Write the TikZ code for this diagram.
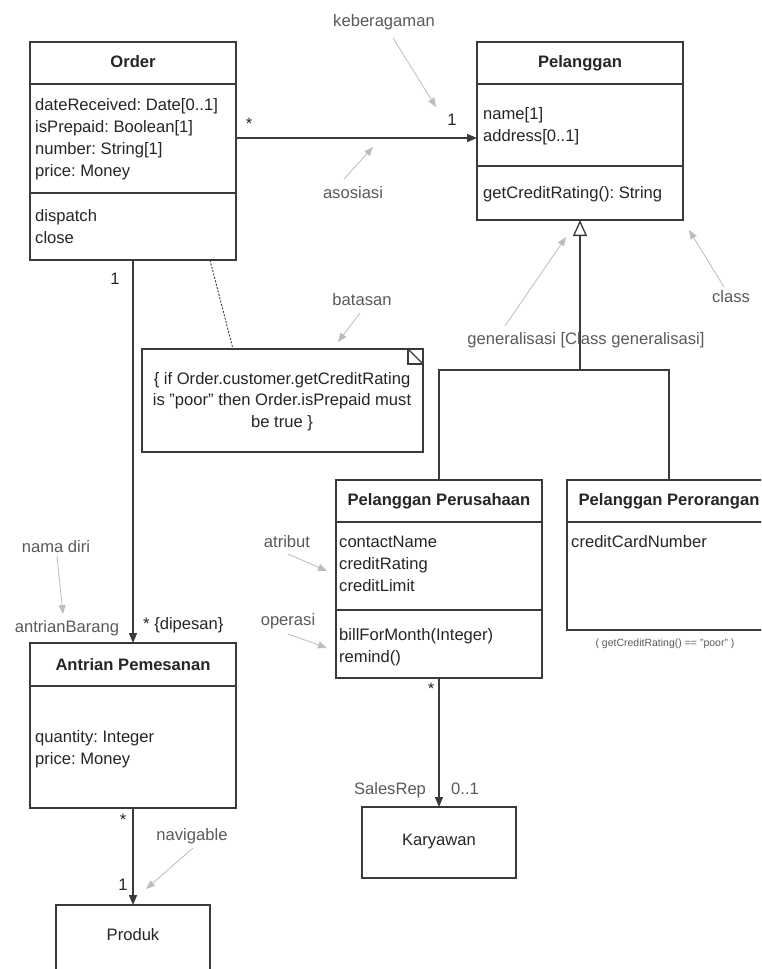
\documentclass[tikz,border=0pt]{standalone}
\usepackage{fontspec}
\setmainfont{Liberation Sans}
\usetikzlibrary{arrows.meta}
\definecolor{linec}{HTML}{3A3A3A}
\definecolor{textc}{HTML}{262626}
\definecolor{annc}{HTML}{5A5A5A}
\definecolor{annl}{HTML}{BDBDBD}
\newcommand{\qq}{{\char34}}
\begin{document}
\frenchspacing
\begin{tikzpicture}[x=1pt,y=-1pt,
  box/.style={draw=linec, line width=1.3pt, rectangle, anchor=north west, inner sep=0pt, outer sep=0pt},
  txt/.style={font=\fontsize{16.6}{22}\selectfont, text=textc, inner sep=0pt, anchor=base west},
  ttl/.style={font=\fontsize{16.6}{22}\selectfont\bfseries, text=textc, inner sep=0pt, anchor=base},
  ctr/.style={font=\fontsize{16.6}{22}\selectfont, text=textc, inner sep=0pt, anchor=base},
  ann/.style={font=\fontsize{16.6}{22}\selectfont, text=annc, inner sep=0pt, anchor=base},
  mult/.style={font=\fontsize{16.6}{22}\selectfont, text=textc, inner sep=0pt, anchor=base},
  sepline/.style={draw=linec, line width=1.3pt},
  assoc/.style={draw=linec, line width=1.3pt, -{Triangle[length=10pt,width=8pt]}},
  genarrow/.style={draw=linec, line width=1.3pt, -{Triangle[open,length=16pt,width=14pt,fill=white]}},
  genline/.style={draw=linec, line width=1.3pt},
  annarrow/.style={draw=annl, line width=0.8pt, -{Triangle[length=9pt,width=7pt]}},
  notelink/.style={draw=linec, line width=0.9pt, dash pattern=on 2pt off 1.5pt}
]
\useasboundingbox (0,0) rectangle (761,969);
\clip (0,0) rectangle (761,969);
\fill[white] (0,0) rectangle (761,969);

% ---------- Order ----------
\node[box, minimum width=206pt, minimum height=218pt] (order) at (30,42) {};
\draw[sepline] (order.west |- 0,84) -- (order.east |- 0,84);
\draw[sepline] (order.west |- 0,193) -- (order.east |- 0,193);
\node[ttl] (ordert) at (133,67) {Order};
\node[txt] (oa1) at (35,110) {dateReceived: Date[0..1]};
\node[txt] (oa2) at (35,132) {isPrepaid: Boolean[1]};
\node[txt] (oa3) at (35,154) {number: String[1]};
\node[txt] (oa4) at (35,176) {price: Money};
\node[txt] (oo1) at (35,221) {dispatch};
\node[txt] (oo2) at (35,243) {close};

% ---------- Pelanggan ----------
\node[box, minimum width=206pt, minimum height=178pt] (pel) at (477,42) {};
\draw[sepline] (pel.west |- 0,84) -- (pel.east |- 0,84);
\draw[sepline] (pel.west |- 0,166) -- (pel.east |- 0,166);
\node[ttl] (pelt) at (580,67) {Pelanggan};
\node[txt] (pa1) at (483,119) {name[1]};
\node[txt] (pa2) at (483,141) {address[0..1]};
\node[txt] (po1) at (483,198) {getCreditRating(): String};

% ---------- Pelanggan Perusahaan ----------
\node[box, minimum width=206pt, minimum height=198pt] (pp) at (336,480) {};
\draw[sepline] (pp.west |- 0,522) -- (pp.east |- 0,522);
\draw[sepline] (pp.west |- 0,610) -- (pp.east |- 0,610);
\node[ttl] (ppt) at (439,505) {Pelanggan Perusahaan};
\node[txt] (ppa1) at (339,547) {contactName};
\node[txt] (ppa2) at (339,569) {creditRating};
\node[txt] (ppa3) at (339,591) {creditLimit};
\node[txt] (ppo1) at (339,640) {billForMonth(Integer)};
\node[txt] (ppo2) at (339,662) {remind()};

% ---------- Pelanggan Perorangan ----------
\node[box, minimum width=204pt, minimum height=150pt] (po) at (567,480) {};
\draw[sepline] (po.west |- 0,522) -- (po.east |- 0,522);
\node[ttl] (pot) at (669,505) {Pelanggan Perorangan};
\node[txt] (poa1) at (571,547) {creditCardNumber};
\node[font=\fontsize{10.5}{12}\selectfont, text=annc, inner sep=0pt] (pocon) at (665,644) {( getCreditRating() == \qq poor\qq\ )};

% ---------- Note ----------
\node[box, minimum width=281pt, minimum height=103pt] (note) at (142,349) {};
\draw[draw=linec, line width=1.1pt] (note.north east) ++(-15,0) coordinate (dg1) -- ++(0,15) -- ++(15,0);
\draw[draw=linec, line width=1.1pt] (dg1) -- ++(15,15);
\node[ctr] (n1) at (282,384) {\{ if Order.customer.getCreditRating};
\node[ctr] (n2) at (282,405) {is \qq poor\qq\ then Order.isPrepaid must};
\node[ctr] (n3) at (282,427) {be true \}};
\coordinate (nl1) at (210,260);
\coordinate (nl2) at (233,349);
\draw[notelink] (order.south -| nl1) -- (note.north -| nl2);

% ---------- Antrian Pemesanan ----------
\node[box, minimum width=206pt, minimum height=165pt] (ap) at (30,643) {};
\draw[sepline] (ap.west |- 0,686) -- (ap.east |- 0,686);
\node[ttl] (apt) at (133,670) {Antrian Pemesanan};
\node[txt] (apa1) at (35,742) {quantity: Integer};
\node[txt] (apa2) at (35,764) {price: Money};

% ---------- Karyawan ----------
\node[box, minimum width=154pt, minimum height=71pt] (kar) at (362,807) {};
\node[ctr] (kart) at (439,845) {Karyawan};

% ---------- Produk ----------
\node[box, minimum width=154pt, minimum height=90pt] (prod) at (56,905) {};
\node[ctr] (prodt) at (133,940) {Produk};

% ---------- Connectors ----------
\coordinate (ay) at (0,138);
\draw[assoc] (order.east |- ay) -- (pel.west |- ay);
\draw[assoc] (order.south) -- (ap.north);
\draw[assoc] (ap.south) -- (prod.north);
\draw[assoc] (pp.south) -- (kar.north);
\coordinate (gj) at (580,370);
\draw[genline] (pp.north) |- (gj) -| (po.north);
\draw[genarrow] (gj) -- (pel.south);

% ---------- Multiplicities ----------
\node[mult] (m1) at (249,129) {*};
\node[mult] (m2) at (452,125) {1};
\node[mult] (m3) at (115,284) {1};
\node[mult, anchor=base west] (m4) at (143,629) {* \{dipesan\}};
\node[ann] (m5) at (67,632) {antrianBarang};
\node[mult] (m6) at (123,825) {*};
\node[mult] (m7) at (123,890) {1};
\node[mult] (m8) at (431,694) {*};
\node[ann] (m9) at (390,794) {SalesRep};
\node[ann] (m10) at (465,794) {0..1};

% ---------- Annotations ----------
\node[ann] (lkeb) at (384,27) {keberagaman};
\node[ann] (laso) at (353,198) {asosiasi};
\node[ann] (lbat) at (362,305) {batasan};
\node[ann] (lcls) at (731,302) {class};
\node[ann] (lgen) at (586,344) {generalisasi [Class generalisasi]};
\node[ann] (latr) at (287,547) {atribut};
\node[ann] (lopr) at (288,625) {operasi};
\node[ann] (lnam) at (56,552) {nama diri};
\node[ann] (lnav) at (192,840) {navigable};

\coordinate (k1) at (393,38);  \coordinate (k2) at (436,107);
\coordinate (a1) at (344,179); \coordinate (a2) at (373,147);
\coordinate (b1) at (360,313); \coordinate (b2) at (338,342);
\coordinate (c1) at (724,287); \coordinate (c2) at (689,230);
\coordinate (g1) at (505,326); \coordinate (g2) at (566,237);
\coordinate (t1) at (288,554); \coordinate (t2) at (327,571);
\coordinate (o1) at (288,634); \coordinate (o2) at (327,648);
\coordinate (d1) at (57,556);  \coordinate (d2) at (63,614);
\coordinate (v1) at (193,848); \coordinate (v2) at (146,889);
\draw[annarrow] (k1) -- (k2);
\draw[annarrow] (a1) -- (a2);
\draw[annarrow] (b1) -- (b2);
\draw[annarrow] (c1) -- (c2);
\draw[annarrow] (g1) -- (g2);
\draw[annarrow] (t1) -- (t2);
\draw[annarrow] (o1) -- (o2);
\draw[annarrow] (d1) -- (d2);
\draw[annarrow] (v1) -- (v2);
\end{tikzpicture}
\end{document}
